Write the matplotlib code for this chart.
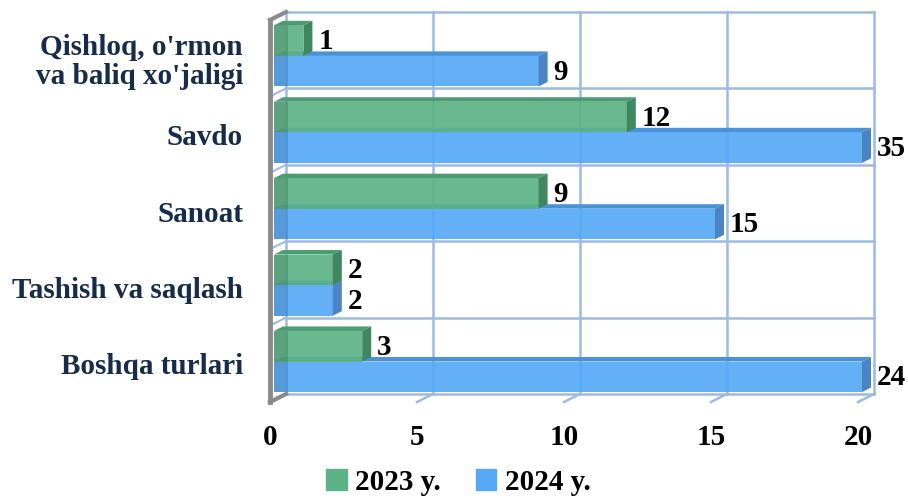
import numpy as np
import matplotlib.pyplot as plt
from matplotlib.patches import Polygon, Patch
from matplotlib.transforms import ScaledTranslation

# data
categories = ["Qishloq, o'rmon\nva baliq xo'jaligi", "Savdo", "Sanoat",
              "Tashish va saqlash", "Boshqa turlari"]
vals_2023 = [1, 12, 9, 2, 3]
vals_2024 = [9, 35, 15, 2, 24]
series_names = ["2023 y.", "2024 y."]
xticks = [0, 5, 10, 15, 20]
x_max = 20

# colours: front, side, top
green = ("#5DB287", "#3E8760", "#4C9C72")
blue = ("#56A9F7", "#4A84C2", "#4A92D8")
grid_c = "#9DBBE0"
wall_c = "#8A8A8A"
label_c = "#172C4A"

plt.rcParams['font.family'] = ['Liberation Serif', 'DejaVu Serif']
plt.rcParams['font.weight'] = 'bold'

fig = plt.figure(figsize=(9.08, 5.01), dpi=100)
ax = fig.add_axes([270 / 908, 99 / 501, 588 / 908, 382 / 501])
n = len(categories)
ax.set_xlim(0, x_max)
ax.set_ylim(0, n)
for s in ax.spines.values():
    s.set_visible(False)

# pixel -> data units
px_x = x_max / 588
px_y = n / 382
box_dx, box_dy = 16 * px_x, 8 * px_y     # depth of the 3d box
bar_dx, bar_dy = 9 * px_x, 4.5 * px_y    # depth of a bar

def shifted(dx_px, dy_px):
    return ax.transData + ScaledTranslation(dx_px / 100, dy_px / 100, fig.dpi_scale_trans)

# back wall grid
back = shifted(16, 8)
for xt in xticks:
    ax.plot([xt, xt], [0, n], color=grid_c, lw=1.8, transform=back, clip_on=False, zorder=1)
for k in range(n + 1):
    ax.plot([0, x_max], [k, k], color=grid_c, lw=1.8, transform=back, clip_on=False, zorder=1)
# floor
for xt in xticks[1:]:
    ax.plot([xt, xt + box_dx], [0, box_dy], color=grid_c, lw=1.8, clip_on=False, zorder=1)
# side wall
for k in range(1, n):
    ax.plot([0, box_dx], [k, k + box_dy], color=grid_c, lw=1.5, clip_on=False, zorder=1)
ax.plot([0, 0], [0, n], color=wall_c, lw=3.5, clip_on=False, zorder=1)
ax.plot([0, box_dx], [0, box_dy], color=wall_c, lw=3, clip_on=False, zorder=1)
ax.plot([0, box_dx], [n, n + box_dy], color=wall_c, lw=3, clip_on=False, zorder=1)

bar_tr = shifted(4, 0)
lab_tr = shifted(4 + 9 + 6, -1)
bar_h = 0.4

def bar3d(y, v, cols, z):
    w = min(v, x_max)
    y0, y1 = y - bar_h / 2, y + bar_h / 2
    r = ax.barh([y], [w], height=bar_h, left=0, color=cols[0], alpha=0.92, zorder=z)[0]
    r.set_transform(bar_tr)
    r.set_clip_on(False)
    shade = ax.barh([y], [14 * px_x], height=bar_h, left=0, color="k", alpha=0.12, zorder=z)[0]
    shade.set_transform(bar_tr)
    side = Polygon([(w, y0), (w, y1), (w + bar_dx, y1 + bar_dy), (w + bar_dx, y0 + bar_dy)],
                   closed=True, facecolor=cols[1], edgecolor="none", transform=bar_tr,
                   clip_on=False, zorder=z)
    top = Polygon([(0, y1), (w, y1), (w + bar_dx, y1 + bar_dy), (bar_dx, y1 + bar_dy)],
                  closed=True, facecolor=cols[2], edgecolor="none", transform=bar_tr,
                  clip_on=False, zorder=z - 0.5)
    ax.add_patch(side)
    ax.add_patch(top)
    ax.text(w, y, str(v), transform=lab_tr, ha="left", va="center",
            fontsize=21, fontweight="bold", color="black", zorder=10)

for i in range(n):
    b = n - 1 - i
    bar3d(b + 0.33, vals_2024[i], blue, 3 + 2 * i)
    bar3d(b + 0.73, vals_2023[i], green, 4 + 2 * i)

ax.set_xticks(xticks)
ax.set_xticklabels([str(t) for t in xticks], fontsize=21, fontweight="bold")
ax.set_yticks([n - 1 - i + 0.5 for i in range(n)])
ax.set_yticklabels(categories, fontsize=21, fontweight="bold", color=label_c,
                   linespacing=1.1)
ax.tick_params(axis="x", length=0, pad=16)
ax.tick_params(axis="y", length=0, pad=19.5)

handles = [Patch(color=green[0]), Patch(color=blue[0])]
fig.legend(handles, series_names, loc="lower center", bbox_to_anchor=(0.505, -0.042), ncol=2,
           frameon=False, prop={"size": 21, "weight": "bold"}, handlelength=0.7,
           handleheight=0.7, handletextpad=0.3, columnspacing=1.2)

fig.savefig("out.png", dpi=100)
